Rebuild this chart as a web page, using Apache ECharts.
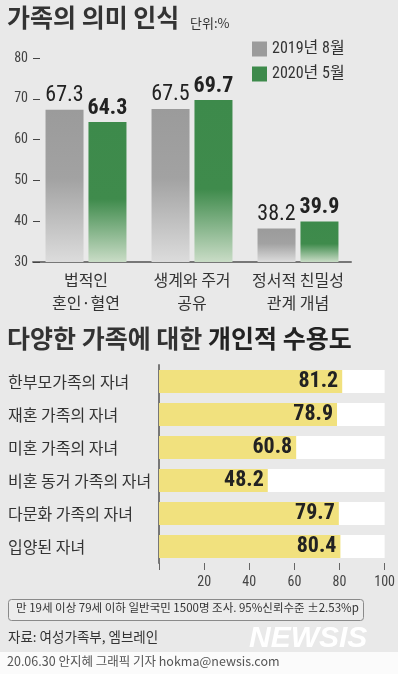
<!DOCTYPE html>
<html>
<head>
<meta charset="utf-8">
<script src="https://cdn.jsdelivr.net/npm/echarts@6/dist/echarts.min.js"></script>
<style>
  html, body { margin: 0; padding: 0; background: #e9e9e9; }
  #chart { width: 398px; height: 674px; }
</style>
</head>
<body>
<div id="chart"></div>
<script>
// 가족의 의미 인식 (단위:%)
const meaningCats = ['법적인\n혼인·혈연', '생계와 주거\n공유', '정서적 친밀성\n관계 개념']
const series2019 = [67.3, 67.5, 38.2]
const series2020 = [64.3, 69.7, 39.9]
const meaningTicks = [30, 40, 50, 60, 70, 80]
// 다양한 가족에 대한 개인적 수용도
const acceptCats = ['한부모가족의 자녀', '재혼 가족의 자녀', '미혼 가족의 자녀', '비혼 동거 가족의 자녀', '다문화 가족의 자녀', '입양된 자녀']
const acceptValues = [81.2, 78.9, 60.8, 48.2, 79.7, 80.4]
const acceptTicks = [0, 20, 40, 60, 80, 100]

const KR = "'Noto Sans CJK KR', sans-serif"
// 숫자는 좁은 글꼴
const NUM = "'Roboto Condensed', 'Noto Sans CJK KR', sans-serif"

const chart = echarts.init(document.getElementById('chart'))

// 막대 그라데이션 (위는 진하게, 아래로 갈수록 연하게)
const grayFill = new echarts.graphic.LinearGradient(0, 0, 0, 1, [
  { offset: 0, color: '#9b9b9b' },
  { offset: 0.45, color: '#a2a2a2' },
  { offset: 1, color: '#dcdcdc' }
])
const greenFill = new echarts.graphic.LinearGradient(0, 0, 0, 1, [
  { offset: 0, color: '#3d8a4b' },
  { offset: 0.55, color: '#3f8b4c' },
  { offset: 1, color: '#c9dcc6' }
])

const option = {
  backgroundColor: '#e9e9e9',
  animation: false,
  title: [
    {
      text: '가족의 의미 인식',
      left: 7, top: 5, padding: 0,
      textStyle: { fontFamily: KR, fontSize: 25, fontWeight: 'bold', color: '#333' }
    },
    {
      text: '단위:%',
      left: 190, top: 17, padding: 0,
      textStyle: { fontFamily: KR, fontSize: 13, fontWeight: 'normal', color: '#333' }
    },
    {
      text: '{n|다양한 가족에 대한 }{b|개인적 수용도}',
      left: 7, top: 326, padding: 0,
      textStyle: {
        rich: {
          n: { fontFamily: KR, fontSize: 25, color: '#333' },
          b: { fontFamily: KR, fontSize: 25, fontWeight: 'bold', color: '#222' }
        }
      }
    }
  ],
  legend: {
    orient: 'vertical',
    left: 252, top: 41, padding: 0,
    itemWidth: 15, itemHeight: 15, itemGap: 9,
    icon: 'rect',
    textStyle: { fontFamily: NUM, fontSize: 16, color: '#333' },
    data: [
      { name: '2019년 8월', itemStyle: { color: '#9b9b9b' } },
      { name: '2020년 5월', itemStyle: { color: '#3d8a4b' } }
    ]
  },
  grid: [
    { left: 33, top: 58, width: 318, height: 204 },
    { left: 159, top: 365, width: 226, height: 198 }
  ],
  xAxis: [
    {
      gridIndex: 0,
      type: 'category',
      data: meaningCats,
      axisLine: { lineStyle: { color: '#777', width: 2 } },
      axisTick: { show: false },
      axisLabel: { interval: 0, fontFamily: KR, fontSize: 16, color: '#333', lineHeight: 23, margin: 6 }
    },
    {
      gridIndex: 1,
      type: 'value',
      min: acceptTicks[0],
      max: acceptTicks[acceptTicks.length - 1],
      interval: 20,
      splitLine: { show: false },
      axisLine: { show: false },
      axisTick: { show: true, length: 7, lineStyle: { color: '#666' } },
      axisLabel: {
        fontFamily: NUM, fontSize: 14, color: '#444', margin: 12,
        formatter: v => (v === 0 ? '' : v)
      }
    }
  ],
  yAxis: [
    {
      gridIndex: 0,
      type: 'value',
      min: meaningTicks[0],
      max: meaningTicks[meaningTicks.length - 1],
      interval: 10,
      splitLine: { show: false },
      axisLine: { show: false },
      axisTick: { show: true, inside: true, length: 7, lineStyle: { color: '#444' } },
      axisLabel: { fontFamily: NUM, fontSize: 14, color: '#444', margin: 5 }
    },
    {
      gridIndex: 1,
      type: 'category',
      inverse: true,
      data: acceptCats,
      axisLine: { lineStyle: { color: '#777', width: 2 } },
      axisTick: { show: false },
      axisLabel: { interval: 0, fontFamily: KR, fontSize: 16, color: '#333', align: 'left', margin: 151 }
    }
  ],
  series: [
    {
      name: '2019년 8월',
      type: 'bar',
      xAxisIndex: 0, yAxisIndex: 0,
      data: series2019,
      barWidth: 38,
      barGap: '13%',
      itemStyle: { color: grayFill },
      label: {
        show: true, position: 'top', distance: 3,
        fontFamily: NUM, fontSize: 22, color: '#222', fontWeight: 'normal'
      }
    },
    {
      name: '2020년 5월',
      type: 'bar',
      xAxisIndex: 0, yAxisIndex: 0,
      data: series2020,
      barWidth: 38,
      barGap: '13%',
      itemStyle: { color: greenFill },
      label: {
        show: true, position: 'top', distance: 3,
        fontFamily: NUM, fontSize: 22, color: '#222', fontWeight: 'bold'
      }
    },
    {
      name: '수용도',
      type: 'bar',
      xAxisIndex: 1, yAxisIndex: 1,
      data: acceptValues,
      barWidth: 23,
      showBackground: true,
      backgroundStyle: { color: '#ffffff' },
      itemStyle: { color: '#f1e17e' },
      label: {
        show: true, position: 'insideRight', distance: 4,
        fontFamily: NUM, fontSize: 22, fontWeight: 'bold', color: '#222'
      }
    }
  ],
  graphic: [
    // 조사 설명 박스
    {
      type: 'rect', left: 8, top: 599,
      shape: { width: 355, height: 21, r: 3 },
      style: { fill: '#ececec', stroke: '#8a8a8a', lineWidth: 1 }
    },
    {
      type: 'text', left: 16, top: 602,
      style: {
        text: '만 19세 이상 79세 이하 일반국민 1500명 조사. 95%신뢰수준 ±2.53%p',
        font: "11.5px 'Noto Sans CJK KR'", fill: '#333'
      }
    },
    {
      type: 'text', left: 8, top: 630,
      style: { text: '자료: 여성가족부, 엠브레인', font: "13.5px 'Noto Sans CJK KR'", fill: '#333' }
    },
    // 워터마크
    {
      type: 'text', left: 249, top: 624,
      style: {
        text: 'NEWSIS',
        font: "italic bold 30px 'Liberation Sans'",
        fill: '#ffffff',
        shadowBlur: 4, shadowColor: 'rgba(0,0,0,0.25)'
      }
    },
    // 하단 바이라인
    {
      type: 'rect', left: 0, top: 652,
      shape: { width: 398, height: 22 },
      style: { fill: '#fbfbfb' }
    },
    {
      type: 'text', left: 7, top: 655,
      style: {
        text: '20.06.30 안지혜 그래픽 기자 hokma@newsis.com',
        font: "12.5px 'Noto Sans CJK KR'", fill: '#555'
      }
    }
  ]
}

chart.setOption(option)
</script>
</body>
</html>
